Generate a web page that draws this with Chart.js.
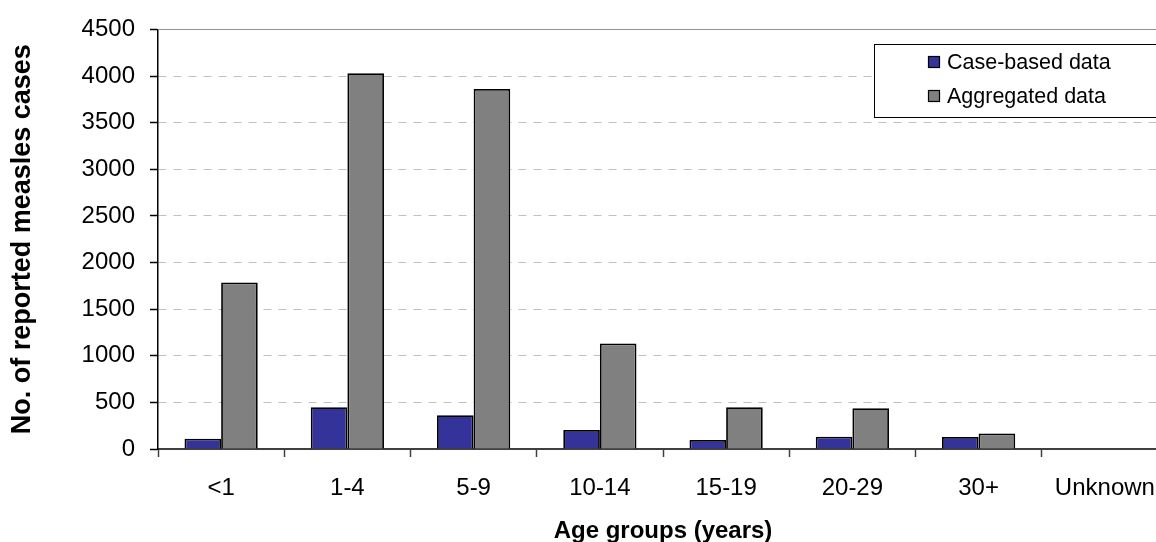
<!DOCTYPE html>
<html>
<head>
<meta charset="utf-8">
<script src="https://cdn.jsdelivr.net/npm/chart.js@4/dist/chart.umd.min.js"></script>
<style>
html,body{margin:0;padding:0;background:#fff;overflow:hidden;width:1156px;height:542px;}
canvas{display:block;}
</style>
</head>
<body>
<canvas id="c" width="1180" height="546" style="width:1180px;height:546px"></canvas>
<script>
const categories = ['<1', '1-4', '5-9', '10-14', '15-19', '20-29', '30+', 'Unknown'];
const caseBased = [110, 448, 363, 203, 96, 131, 128, 0];
const aggregated = [1785, 4030, 3862, 1132, 448, 437, 167, 0];
const seriesNames = ['Case-based data', 'Aggregated data'];
const yTicks = [0, 500, 1000, 1500, 2000, 2500, 3000, 3500, 4000, 4500];
const xTitle = 'Age groups (years)';
const yTitle = 'No. of reported measles cases';

const FONT = "'Liberation Sans', Arial, sans-serif";

const boxLegend = {
  id: 'boxLegend',
  afterDraw(chart) {
    const ctx = chart.ctx;
    ctx.save();
    ctx.fillStyle = '#fff';
    ctx.fillRect(874.5, 44.5, 300, 73);
    ctx.strokeStyle = '#000';
    ctx.lineWidth = 1;
    ctx.strokeRect(874.5, 44.5, 300, 73);
    const ys = [62, 96];
    chart.data.datasets.forEach((ds, i) => {
      ctx.fillStyle = ds.backgroundColor;
      ctx.fillRect(928, ys[i] - 6, 12, 12);
      ctx.strokeStyle = '#000';
      ctx.lineWidth = 1.2;
      ctx.strokeRect(928.5, ys[i] - 5.5, 11, 11);
      ctx.fillStyle = '#000';
      ctx.font = "21.5px " + FONT;
      ctx.textAlign = 'left';
      ctx.textBaseline = 'middle';
      ctx.fillText(ds.label, 947, ys[i] + 1);
    });
    ctx.restore();
  }
};

const topLine = {
  id: 'topLine',
  beforeDatasetsDraw(chart) {
    const y = chart.scales.y;
    const ctx = chart.ctx;
    const py = Math.round(y.getPixelForValue(yTicks[yTicks.length - 1])) + 0.5;
    ctx.save();
    ctx.strokeStyle = '#909090';
    ctx.lineWidth = 1;
    ctx.beginPath();
    ctx.moveTo(chart.chartArea.left, py);
    ctx.lineTo(chart.chartArea.right, py);
    ctx.stroke();
    ctx.restore();
  }
};

new Chart(document.getElementById('c'), {
  type: 'bar',
  data: {
    labels: categories,
    datasets: [
      { label: seriesNames[0], data: caseBased, backgroundColor: '#333399', borderColor: '#000', borderWidth: 1.8, borderSkipped: 'bottom' },
      { label: seriesNames[1], data: aggregated, backgroundColor: '#808080', borderColor: '#000', borderWidth: 1.8, borderSkipped: 'bottom' }
    ]
  },
  options: {
    responsive: false,
    animation: false,
    devicePixelRatio: 1,
    layout: { padding: { top: 27, right: 12, left: 0, bottom: 0 } },
    datasets: { bar: { categoryPercentage: 0.58, barPercentage: 1.0 } },
    plugins: {
      legend: { display: false },
      tooltip: { enabled: false }
    },
    scales: {
      x: {
        afterFit(s) { s.height = 97; },
        grid: { offset: true, drawOnChartArea: false, drawTicks: true, tickLength: 8, tickColor: '#404040', tickWidth: 1.5 },
        border: { display: true, color: '#404040', width: 2 },
        ticks: { color: '#000', font: { family: FONT, size: 24 }, padding: 17, maxRotation: 0, autoSkip: false },
        title: { display: true, text: xTitle, color: '#000', font: { family: FONT, size: 24, weight: 'bold' }, padding: { top: 0, bottom: 0 } }
      },
      y: {
        min: 0, max: 4500,
        afterFit(s) { s.width = 158; },
        afterBuildTicks(s) { s.ticks = yTicks.map(v => ({ value: v })); },
        grid: { color: '#c0c0c0', lineWidth: 1, drawTicks: true, tickLength: 8, tickColor: '#000', tickWidth: 1.5 },
        border: { display: true, color: '#000', width: 1.5, dash: [8, 7] },
        ticks: { color: '#000', font: { family: FONT, size: 24 }, padding: 15, callback: v => String(v) },
        title: { display: true, text: yTitle, color: '#000', font: { family: FONT, size: 27, weight: 'bold' }, padding: { top: 6, bottom: 0 } }
      }
    }
  },
  plugins: [topLine, boxLegend]
});
</script>
</body>
</html>
